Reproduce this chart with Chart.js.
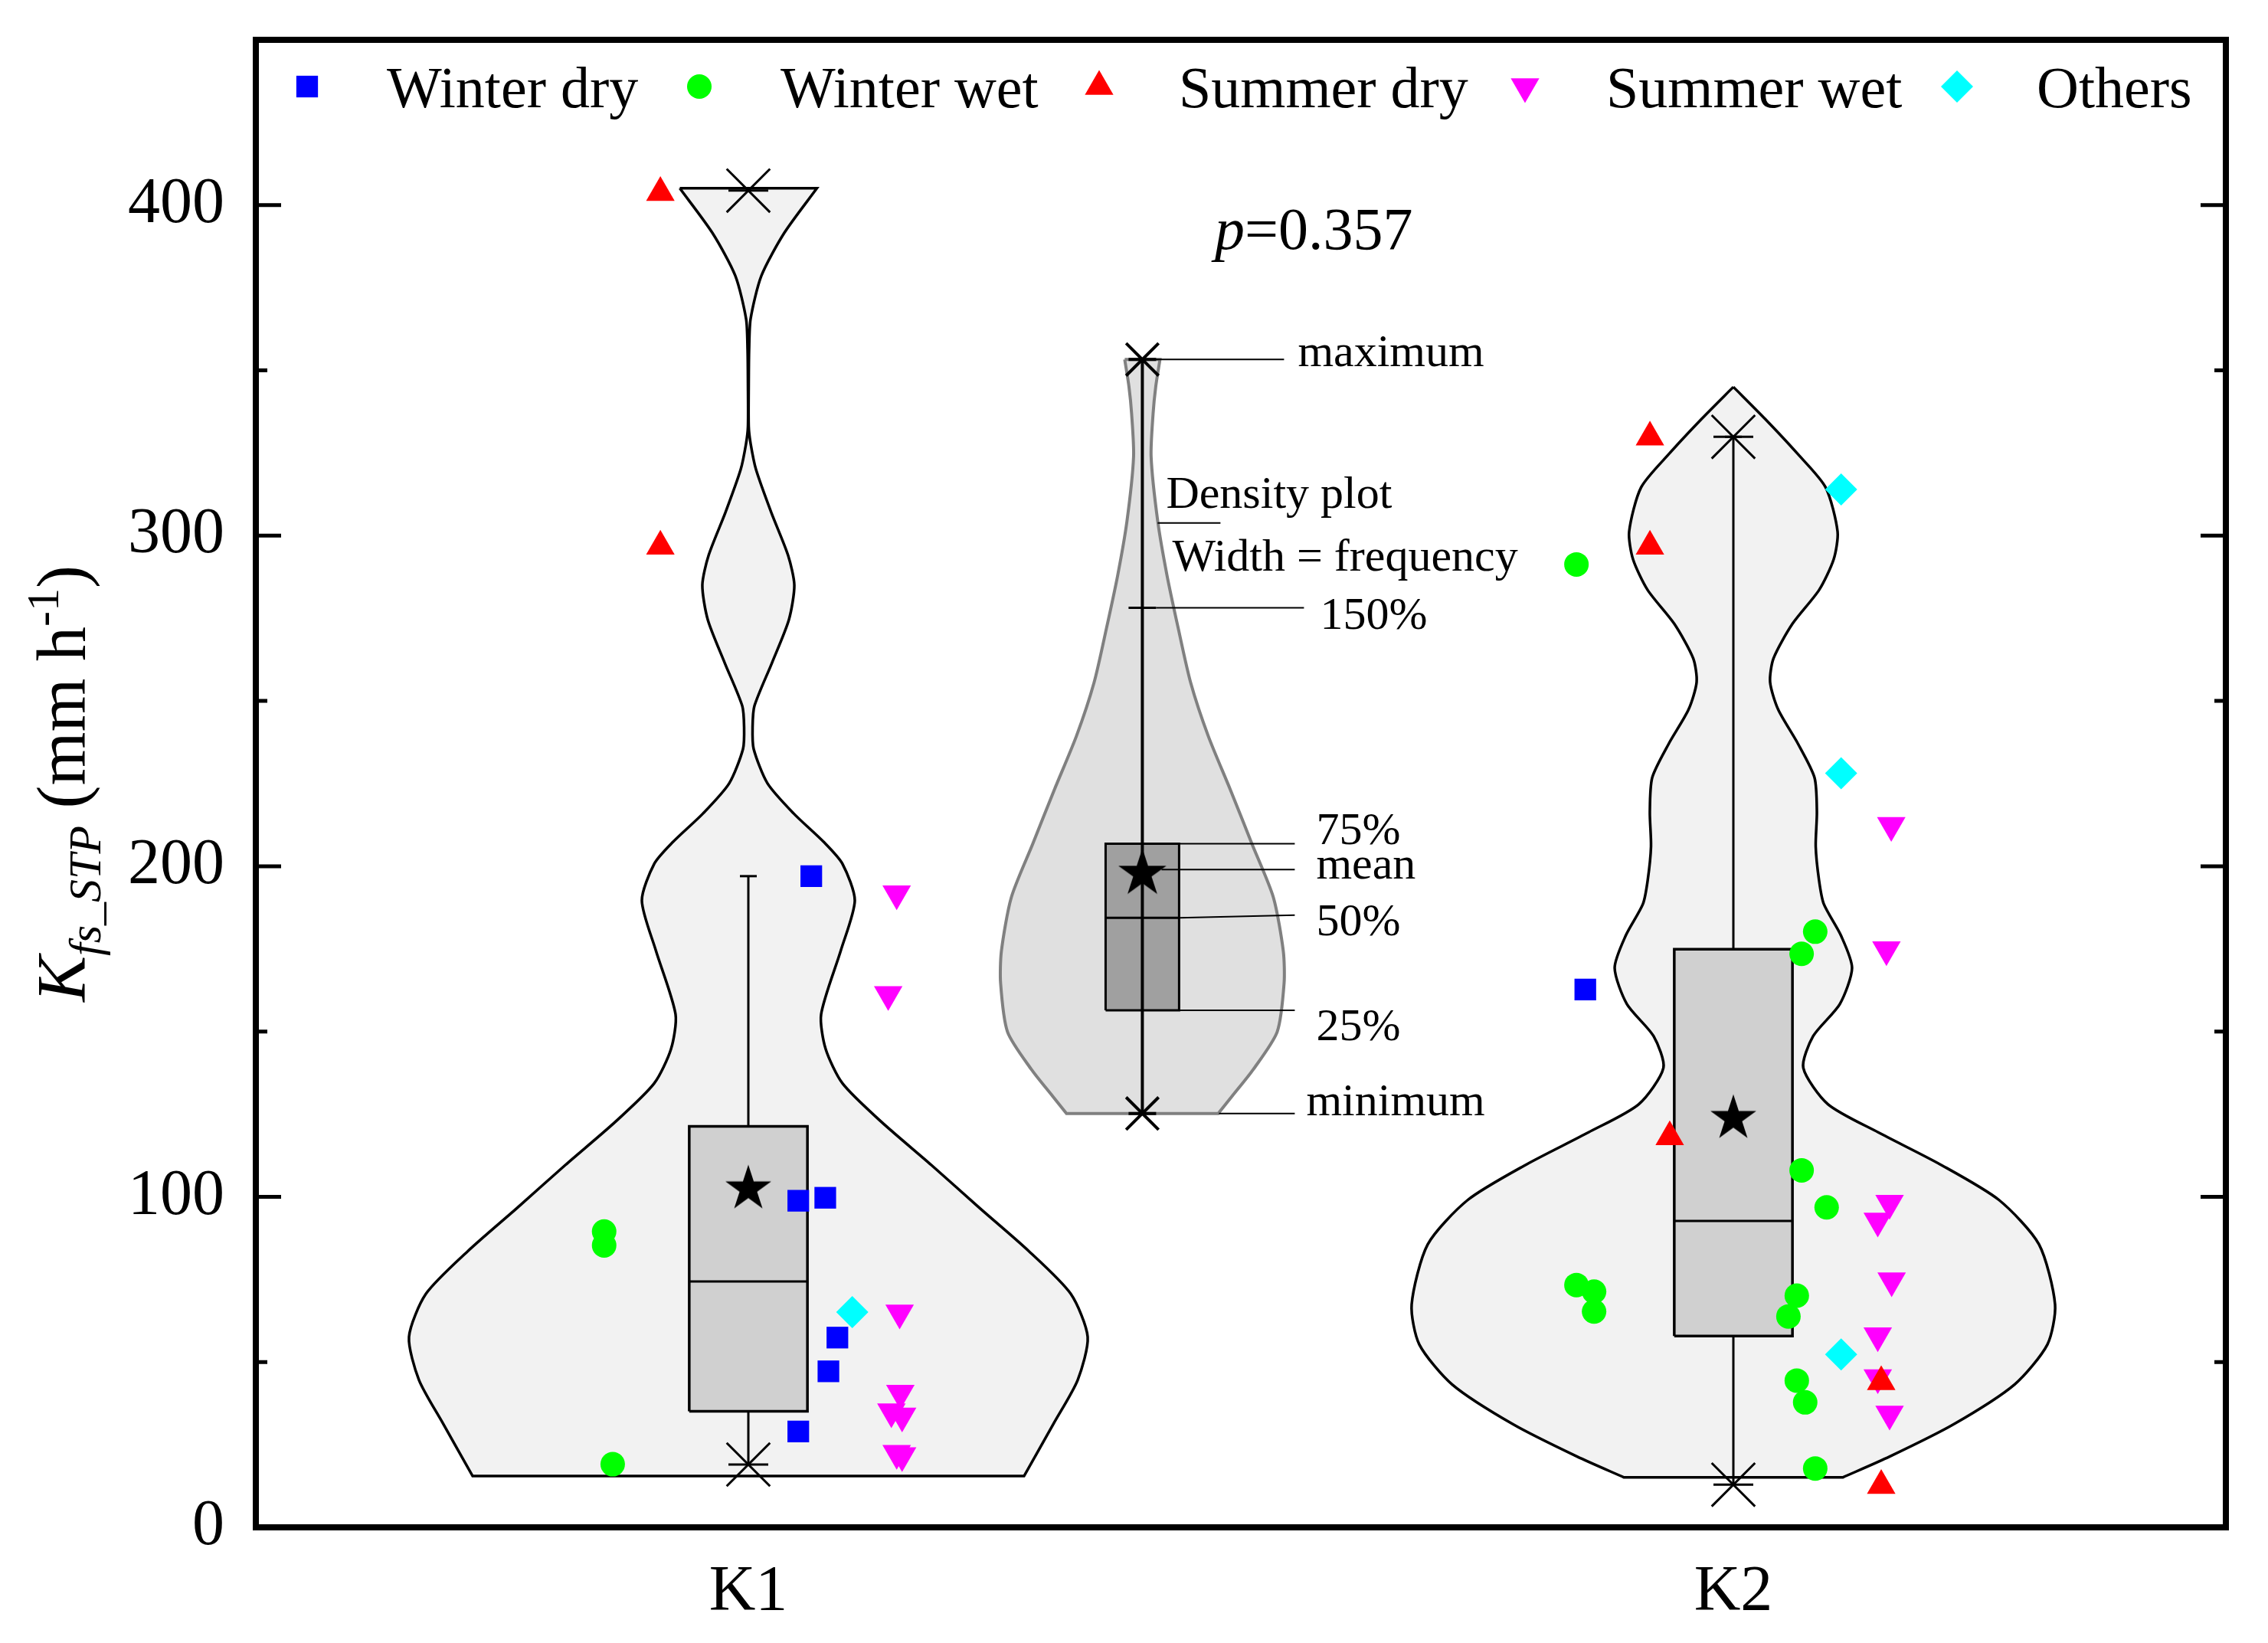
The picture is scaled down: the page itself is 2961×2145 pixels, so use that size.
<!DOCTYPE html>
<html><head><meta charset="utf-8">
<script src="https://cdn.jsdelivr.net/npm/chart.js@4/dist/chart.umd.min.js"></script>
<style>html,body{margin:0;padding:0;background:#fff;}#wrap{width:2961px;height:2145px;position:relative;}</style>
</head><body><div id="wrap"><canvas id="c" width="2961" height="2145"></canvas></div>
<script>
// ---------------- DATA ----------------
const categories = ['K1', 'K2'];
const categoryX = [1, 2];
const yTicks = [0, 100, 200, 300, 400];
const yMinorTicks = [50, 150, 250, 350];
const legendLabels = ['Winter dry', 'Winter wet', 'Summer dry', 'Summer wet', 'Others'];
const pValueText = '0.357';

// scatter points (x = jittered position on category axis)
const winterDryX = [1.0639, 1.0507, 1.0781, 1.0904, 1.0813, 1.0507, 1.8497];
const winterDryY = [197.0, 98.8, 99.7, 57.4, 47.2, 29.0, 162.7];
const winterWetX = [0.8536, 0.8536, 0.8623, 1.8407, 2.0831, 2.0693, 2.0693, 2.0947, 1.8407, 1.8586, 1.8586, 2.0644, 2.0559, 2.0644, 2.0729, 2.0831];
const winterWetY = [89.5, 85.3, 19.1, 291.3, 180.2, 173.5, 108.0, 96.8, 73.3, 71.3, 65.3, 70.1, 63.8, 44.4, 37.8, 17.8];
const summerDryX = [0.9107, 0.9107, 1.9153, 1.9153, 1.9354, 2.1501, 2.1501];
const summerDryY = [403.8, 296.8, 329.8, 296.8, 118.1, 44.0, 12.6];
const summerWetX = [1.1506, 1.1420, 1.1536, 1.1543, 1.1452, 1.1561, 1.1506, 1.1561, 2.1603, 2.1554, 2.1586, 2.1466, 2.1607, 2.1466, 2.1466, 2.1586];
const summerWetY = [191.7, 161.2, 64.9, 40.6, 35.0, 33.7, 22.4, 21.7, 212.4, 174.8, 98.1, 92.7, 74.6, 58.0, 45.3, 34.3];
const othersX = [1.1055, 2.1094, 2.1094, 2.1094];
const othersY = [65.1, 314.0, 228.1, 52.3];

// box statistics per category
const q1Vals = [35.1, 57.9];
const medianVals = [74.4, 92.7];
const q3Vals = [121.3, 174.9];
const meanVals = [103.1, 124.4];
const whiskerLowVals = [19.0, 12.9];
const whiskerHighVals = [197.0, 329.9];
const minVals = [19.0, 12.9];
const maxVals = [404.4, 329.9];

// violin density profiles: value, half-width (x-axis units)
const k1ViolinY = [405.1, 391.6, 378.6, 365.6, 356.5, 346, 333, 327.9, 320, 307, 294, 285, 274.6, 261.6, 248.5, 242, 235.5, 225.1, 216, 207.2, 200.7, 189.6, 174.7, 155.2, 144.7, 134.3, 122.6, 109.6, 96.6, 83.6, 70.6, 57.6, 44.6, 31.6, 15.5];
const k1ViolinW = [0.0696, 0.0365, 0.0132, 0.0023, 0.0008, 0.0004, 0.0004, 0.0023, 0.0078, 0.0233, 0.0404, 0.0467, 0.0412, 0.0241, 0.0062, 0.0043, 0.0054, 0.0194, 0.0459, 0.0770, 0.0956, 0.1081, 0.0941, 0.0739, 0.0785, 0.0956, 0.1353, 0.1858, 0.2348, 0.2846, 0.3274, 0.3445, 0.3344, 0.3103, 0.2799];
const k2ViolinY = [345.0, 335.3, 325.0, 314.6, 301.2, 292.9, 283.6, 273.3, 262.9, 255.7, 247.4, 237.0, 226.8, 216.4, 206.0, 195.7, 188.6, 179.0, 169.2, 158.3, 148.6, 139.0, 128.0, 119.5, 109.8, 99.0, 85.6, 67.4, 55.3, 43.2, 31.1, 21.4, 15.1];
const k2ViolinW = [0, 0.0323, 0.0645, 0.0937, 0.1058, 0.1019, 0.0871, 0.0599, 0.0408, 0.0373, 0.0455, 0.0657, 0.0824, 0.0848, 0.0836, 0.0870, 0.0918, 0.1093, 0.1205, 0.1081, 0.0810, 0.0710, 0.0960, 0.1470, 0.2100, 0.2698, 0.3103, 0.3266, 0.3188, 0.2854, 0.2232, 0.1586, 0.1110];

// schematic (legend) violin
const insetX = 1.4;
const insetViolinY = [353.3, 345.1, 336.9, 323.9, 304.4, 288.2, 271.9, 255.6, 239.4, 223.1, 206.8, 190.6, 174.3, 164.6, 149.9, 138.6, 130.4, 125.2];
const insetViolinW = [0.0179, 0.0136, 0.0109, 0.0089, 0.0156, 0.0249, 0.0365, 0.0490, 0.0669, 0.0894, 0.1112, 0.1330, 0.1431, 0.1439, 0.1369, 0.1128, 0.0910, 0.0770];
const insetMin = 125.2, insetQ1 = 156.4, insetMedian = 184.4, insetMean = 198.5, insetQ3 = 206.8, insetP150 = 278.2, insetMax = 353.3;

// ---------------- STYLE ----------------
const FONT = "'Liberation Serif', 'Times New Roman', serif";
const BOX_HALF = 0.06;
const INSET_BOX_HALF = 0.0373;
const COLORS = ['#0000ff', '#00ff00', '#ff0000', '#ff00ff', '#00ffff'];
const STYLES = [
  {pointStyle: 'rect', radius: 20, rotation: 0},
  {pointStyle: 'circle', radius: 16, rotation: 0},
  {pointStyle: 'triangle', radius: 21.5, rotation: 0},
  {pointStyle: 'triangle', radius: 21.5, rotation: 180},
  {pointStyle: 'rectRot', radius: 21, rotation: 0}
];

function makeStar(R) {
  const w = Math.ceil(2 * R * Math.sin(2 * Math.PI / 5)) + 4;
  const h = Math.ceil(R * (1 + Math.cos(Math.PI / 5))) + 4;
  const c = document.createElement('canvas');
  c.width = w; c.height = h;
  const g = c.getContext('2d');
  const cx = w / 2, cy = h / 2 + (R - R * Math.cos(Math.PI / 5)) / 2;
  g.beginPath();
  for (let i = 0; i < 10; i++) {
    const r = i % 2 === 0 ? R : R * 0.382;
    const a = -Math.PI / 2 + i * Math.PI / 5;
    const px = cx + r * Math.cos(a), py = cy + r * Math.sin(a);
    if (i === 0) g.moveTo(px, py); else g.lineTo(px, py);
  }
  g.closePath();
  g.fillStyle = '#000';
  g.fill();
  return c;
}
const starMain = makeStar(31.5);
const starInset = makeStar(33);

// closed outline: left side top->bottom, right side bottom->top; corner points doubled for sharp corners
function violinPolygon(cx, ys, ws) {
  const n = ys.length;
  const pts = [];
  for (let i = 0; i < n; i++) pts.push({x: cx - ws[i], y: ys[i]});
  pts.push({x: cx - ws[n - 1], y: ys[n - 1]});
  for (let i = n - 1; i >= 0; i--) pts.push({x: cx + ws[i], y: ys[i]});
  pts.splice(n + 1, 0, {x: cx + ws[n - 1], y: ys[n - 1]});
  pts.push({x: cx + ws[0], y: ys[0]});
  pts.push({x: cx - ws[0], y: ys[0]});
  return pts;
}
function boxPolygon(cx, lo, hi, half) {
  return [{x: cx - half, y: lo}, {x: cx + half, y: lo}, {x: cx + half, y: hi}, {x: cx - half, y: hi}, {x: cx - half, y: lo}];
}
function lineDs(data, color, width, order, extra) {
  return Object.assign({type: 'line', data, borderColor: color, borderWidth: width, pointRadius: 0, fill: false, tension: 0, order}, extra || {});
}

const datasets = [];
// violins
datasets.push(lineDs(violinPolygon(categoryX[0], k1ViolinY, k1ViolinW), '#000', 3.5, 20, {fill: 'shape', backgroundColor: '#f2f2f2', tension: 0.25}));
datasets.push(lineDs(violinPolygon(categoryX[1], k2ViolinY, k2ViolinW), '#000', 3.5, 20, {fill: 'shape', backgroundColor: '#f2f2f2', tension: 0.25}));
datasets.push(lineDs(violinPolygon(insetX, insetViolinY, insetViolinW), '#808080', 4, 20, {fill: 'shape', backgroundColor: '#e0e0e0', tension: 0.25}));
// whiskers (main)
categoryX.forEach((cx, i) => {
  datasets.push(lineDs([{x: cx, y: whiskerLowVals[i]}, {x: cx, y: whiskerHighVals[i]}], '#000', 3, 16));
});
// boxes (main)
categoryX.forEach((cx, i) => {
  datasets.push(lineDs(boxPolygon(cx, q1Vals[i], q3Vals[i], BOX_HALF), '#000', 3.5, 15, {fill: 'shape', backgroundColor: '#d0d0d0'}));
  datasets.push(lineDs([{x: cx - BOX_HALF, y: medianVals[i]}, {x: cx + BOX_HALF, y: medianVals[i]}], '#000', 3, 14));
});
// inset box + whisker
datasets.push(lineDs(boxPolygon(insetX, insetQ1, insetQ3, INSET_BOX_HALF), '#000', 3, 15, {fill: 'shape', backgroundColor: '#a0a0a0'}));
datasets.push(lineDs([{x: insetX - INSET_BOX_HALF, y: insetMedian}, {x: insetX + INSET_BOX_HALF, y: insetMedian}], '#000', 3, 14));
datasets.push(lineDs([{x: insetX, y: insetMin}, {x: insetX, y: insetMax}], '#000', 4, 13));
// whisker caps
datasets.push({type: 'scatter', data: categoryX.map((cx, i) => ({x: cx, y: whiskerHighVals[i]})), pointStyle: 'line', pointRadius: 11, borderColor: '#000', pointBorderWidth: 3, order: 12});
datasets.push({type: 'scatter', data: [{x: insetX, y: insetP150}], pointStyle: 'line', pointRadius: 18, borderColor: '#000', pointBorderWidth: 3, order: 12});
// min / max markers
const extremes = [];
categoryX.forEach((cx, i) => { extremes.push({x: cx, y: minVals[i]}); extremes.push({x: cx, y: maxVals[i]}); });
datasets.push({type: 'scatter', data: extremes, pointStyle: 'line', pointRadius: 26, borderColor: '#000', pointBorderWidth: 3, order: 11});
datasets.push({type: 'scatter', data: extremes, pointStyle: 'crossRot', pointRadius: 40, borderColor: '#000', pointBorderWidth: 3, order: 11});
datasets.push({type: 'scatter', data: [{x: insetX, y: insetMin}, {x: insetX, y: insetMax}], pointStyle: 'line', pointRadius: 18, borderColor: '#000', pointBorderWidth: 4, order: 11});
datasets.push({type: 'scatter', data: [{x: insetX, y: insetMin}, {x: insetX, y: insetMax}], pointStyle: 'crossRot', pointRadius: 30, borderColor: '#000', pointBorderWidth: 4, order: 11});
// means
datasets.push({type: 'scatter', data: categoryX.map((cx, i) => ({x: cx, y: meanVals[i]})), pointStyle: starMain, pointRadius: 30, order: 10});
datasets.push({type: 'scatter', data: [{x: insetX, y: insetMean}], pointStyle: starInset, pointRadius: 30, order: 10});
// category points
const seriesX = [winterDryX, winterWetX, summerDryX, summerWetX, othersX];
const seriesY = [winterDryY, winterWetY, summerDryY, summerWetY, othersY];
legendLabels.forEach((lab, k) => {
  datasets.push({
    type: 'scatter', label: lab,
    data: seriesX[k].map((x, j) => ({x, y: seriesY[k][j]})),
    pointStyle: STYLES[k].pointStyle, pointRadius: STYLES[k].radius, pointRotation: STYLES[k].rotation,
    backgroundColor: COLORS[k], borderColor: COLORS[k], pointBorderWidth: 0, order: 1
  });
});

// ---------------- DECORATION PLUGIN ----------------
const deco = {
  id: 'deco',
  afterDraw(chart) {
    const ctx = chart.ctx;
    const a = chart.chartArea;
    const xs = chart.scales.x, ys = chart.scales.y;
    ctx.save();
    // frame
    ctx.strokeStyle = '#000';
    ctx.lineWidth = 8;
    ctx.strokeRect(a.left, a.top, a.right - a.left, a.bottom - a.top);
    // inward ticks left & right
    ctx.lineWidth = 5;
    const tick = (v, len) => {
      const py = ys.getPixelForValue(v);
      ctx.beginPath();
      ctx.moveTo(a.left, py); ctx.lineTo(a.left + len, py);
      ctx.moveTo(a.right, py); ctx.lineTo(a.right - len, py);
      ctx.stroke();
    };
    yTicks.forEach(v => { if (v > 0) tick(v, 33); });
    yMinorTicks.forEach(v => tick(v, 15));

    // legend
    const H = Chart.helpers;
    const legMarkX = [401, 913, 1435, 1991, 2555];
    const legTextX = [505, 1019, 1539, 2097, 2659];
    const legY = 113;
    ctx.font = `76px ${FONT}`;
    ctx.textBaseline = 'alphabetic';
    ctx.textAlign = 'left';
    legendLabels.forEach((lab, k) => {
      ctx.fillStyle = COLORS[k];
      ctx.strokeStyle = COLORS[k];
      H.drawPoint(ctx, {pointStyle: STYLES[k].pointStyle, radius: STYLES[k].radius, rotation: STYLES[k].rotation, borderWidth: 0}, legMarkX[k], legY);
      ctx.fillStyle = '#000';
      ctx.fillText(lab, legTextX[k], 140);
    });

    // p-value
    ctx.fillStyle = '#000';
    ctx.font = `italic 78px ${FONT}`;
    const px0 = 1586;
    ctx.fillText('p', px0, 325);
    const pw = ctx.measureText('p').width;
    ctx.font = `78px ${FONT}`;
    ctx.fillText('=' + pValueText, px0 + pw, 325);

    // y title
    ctx.save();
    ctx.translate(81, (a.top + a.bottom) / 2);
    ctx.rotate(-Math.PI / 2);
    const parts = [
      {t: 'K', f: `italic 90px ${FONT}`, dy: 0},
      {t: 'fs_STP', f: `italic 60px ${FONT}`, dy: 20},
      {t: ' (mm h', f: `90px ${FONT}`, dy: 0},
      {t: '-1', f: `60px ${FONT}`, dy: -35},
      {t: ')', f: `90px ${FONT}`, dy: 0}
    ];
    let total = 0;
    parts.forEach(p => { ctx.font = p.f; p.w = ctx.measureText(p.t).width; total += p.w; });
    let cx = -total / 2;
    parts.forEach(p => { ctx.font = p.f; ctx.fillText(p.t, cx, 30 + p.dy); cx += p.w; });
    ctx.restore();

    // inset annotations
    const icx = xs.getPixelForValue(insetX);
    const Y = v => ys.getPixelForValue(v);
    ctx.strokeStyle = '#000';
    ctx.lineWidth = 2;
    ctx.font = `60px ${FONT}`;
    const seg = (x1, y1, x2, y2) => { ctx.beginPath(); ctx.moveTo(x1, y1); ctx.lineTo(x2, y2); ctx.stroke(); };
    seg(icx, Y(insetMax), icx + 185, Y(insetMax));
    ctx.fillText('maximum', icx + 203, Y(insetMax) + 9);
    seg(icx + 20, 682.7, icx + 102, 682.7);
    ctx.fillText('Density plot', icx + 31, 663);
    ctx.fillText('Width = frequency', icx + 39, 745);
    seg(icx + 18, Y(insetP150), icx + 211, Y(insetP150));
    ctx.fillText('150%', icx + 232, Y(insetP150) + 27.5);
    seg(icx + 48, Y(insetQ3), icx + 199, Y(insetQ3));
    ctx.fillText('75%', icx + 227, Y(insetQ3));
    seg(icx + 25, Y(insetMean) - 2, icx + 199, Y(insetMean) - 2);
    ctx.fillText('mean', icx + 227, Y(insetMean) + 10);
    seg(icx + 48, Y(insetMedian), icx + 199, Y(insetMedian) - 3.5);
    ctx.fillText('50%', icx + 227, Y(insetMedian) + 22.5);
    seg(icx + 48, Y(insetQ1), icx + 199, Y(insetQ1));
    ctx.fillText('25%', icx + 227, Y(insetQ1) + 38.5);
    seg(icx + 100, Y(insetMin), icx + 199, Y(insetMin));
    ctx.fillText('minimum', icx + 214, Y(insetMin) + 2);
    ctx.restore();
  }
};

Chart.defaults.font.family = FONT;
Chart.defaults.color = '#000';

new Chart(document.getElementById('c'), {
  type: 'line',
  data: {datasets},
  options: {
    responsive: false,
    animation: false,
    events: [],
    layout: {padding: {left: 0, right: 55, top: 52, bottom: 0}},
    plugins: {legend: {display: false}, tooltip: {enabled: false}},
    scales: {
      x: {
        type: 'linear', min: 0.5, max: 2.5,
        afterFit(s) { s.height = 151; s.paddingLeft = 0; s.paddingRight = 0; },
        afterBuildTicks(s) { s.ticks = categoryX.map(v => ({value: v})); },
        grid: {display: false, drawTicks: false},
        border: {display: false},
        ticks: {font: {size: 84, family: FONT}, color: '#000', padding: 36, maxRotation: 0,
          callback: v => categories[categoryX.indexOf(v)]}
      },
      y: {
        type: 'linear', min: 0, max: 450,
        afterFit(s) { s.width = 334; s.paddingTop = 0; s.paddingBottom = 0; },
        afterBuildTicks(s) { s.ticks = yTicks.map(v => ({value: v})); },
        grid: {display: false, drawTicks: false},
        border: {display: false},
        ticks: {font: {size: 84, family: FONT}, color: '#000', padding: 41}
      }
    }
  },
  plugins: [deco]
});
</script></body></html>
